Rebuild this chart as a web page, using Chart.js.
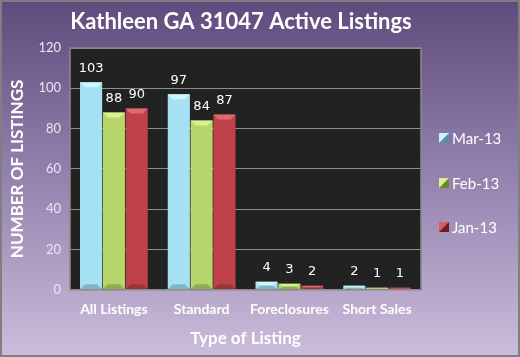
<!DOCTYPE html>
<html><head><meta charset="utf-8">
<script src="https://cdn.jsdelivr.net/npm/chart.js@4/dist/chart.umd.min.js"></script>
<style>html,body{margin:0;padding:0;background:#fff}#wrap{width:520px;height:357px}</style>
</head><body><div id="wrap"><canvas id="c" width="520" height="357"></canvas></div>
<script>
const categories = ["All Listings", "Standard", "Foreclosures", "Short Sales"];
const seriesNames = ["Mar-13", "Feb-13", "Jan-13"];
const mar13 = [103, 97, 4, 2];
const feb13 = [88, 84, 3, 1];
const jan13 = [90, 87, 2, 1];
const yTicks = [0, 20, 40, 60, 80, 100, 120];
const chartTitle = "Kathleen GA 31047 Active Listings";

const palette = [
  {light:'#c8f6ff', mid:'#a4e2f3', dark:'#5a8ea6', top:'#dcfaff'},
  {light:'#d6f28c', mid:'#b6d66c', dark:'#6c8733', top:'#e2f6a0'},
  {light:'#da5c62', mid:'#c04249', dark:'#6a1c21', top:'#e2747a'}
];

function barFill(ctx){
  const el = ctx.element; const p = palette[ctx.datasetIndex];
  if(!el || !isFinite(el.x) || !el.width) return p.mid;
  const c = ctx.chart.ctx; const x0 = el.x - el.width/2, x1 = el.x + el.width/2;
  const g = c.createLinearGradient(x0,0,x1,0);
  g.addColorStop(0,p.light); g.addColorStop(0.2,p.light); g.addColorStop(0.55,p.mid); g.addColorStop(0.85,p.dark); g.addColorStop(1,p.dark);
  return g;
}

const bgPlugin = {
  id:'bg',
  beforeDraw(chart){
    const c = chart.ctx, w = chart.width, h = chart.height;
    const g = c.createLinearGradient(0,0,0,h);
    g.addColorStop(0,'#5e4a7c'); g.addColorStop(0.45,'#8f7daa'); g.addColorStop(1,'#cbbddb');
    c.save(); c.fillStyle = g; c.fillRect(0,0,w,h);
    c.strokeStyle='#7f7f7f'; c.lineWidth=2; c.strokeRect(1,1,w-2,h-2);
    const a = chart.chartArea; c.fillStyle='#222222'; c.fillRect(a.left,a.top,a.right-a.left,a.bottom-a.top);
    c.restore();
  },
  afterDraw(chart){
    const c = chart.ctx, a = chart.chartArea;
    c.save(); c.strokeStyle='#8a8a8a'; c.lineWidth=1.5; c.strokeRect(a.left,a.top,a.right-a.left,a.bottom-a.top);
    c.fillStyle='#ffffff'; c.font='bold 22px Lato, "Open Sans", sans-serif'; c.textAlign='center'; c.textBaseline='middle';
    c.fillText(chartTitle, 241, 22);
    c.restore();
  }
};

const bevelPlugin = {
  id:'bevel',
  afterDatasetsDraw(chart){
    const c = chart.ctx;
    chart.data.datasets.forEach((ds,di)=>{
      const meta = chart.getDatasetMeta(di); const p = palette[di];
      meta.data.forEach((bar,i)=>{
        const x0 = bar.x - bar.width/2, x1 = bar.x + bar.width/2, y0 = bar.y, y1 = bar.base;
        const b = Math.min(5, (y1-y0)/2);
        c.save();
        c.fillStyle = p.top; c.globalAlpha = 0.8;
        c.beginPath(); c.moveTo(x0,y0); c.lineTo(x1,y0); c.lineTo(x1-5,y0+b); c.lineTo(x0+5,y0+b); c.closePath(); c.fill();
        c.fillStyle = 'rgba(0,0,0,0.25)';
        c.beginPath(); c.moveTo(x0,y1); c.lineTo(x1,y1); c.lineTo(x1-5,y1-b); c.lineTo(x0+5,y1-b); c.closePath(); c.fill();
        c.restore();
        c.save(); c.fillStyle='#ffffff'; c.font='13px "DejaVu Sans", sans-serif'; c.textAlign='center'; c.textBaseline='middle';
        c.fillText(String(ds.data[i]), bar.x, bar.y-14); c.restore();
      });
    });
  }
};

const legendPlugin = {
  id:'sideLegend',
  afterDraw(chart){
    const c = chart.ctx;
    const ys = [138,183,227];
    chart.data.datasets.forEach((ds,di)=>{
      const p = palette[di]; const y = ys[di];
      c.save();
      c.fillStyle = p.light; c.fillRect(439,y-5,10,10);
      c.fillStyle = p.dark; c.beginPath(); c.moveTo(449,y-5); c.lineTo(449,y+5); c.lineTo(439,y+5); c.closePath(); c.fill();
      c.fillStyle='#ffffff'; c.font='15px Lato, "Open Sans", sans-serif'; c.textBaseline='middle'; c.textAlign='left';
      c.fillText(ds.label, 452, y+1);
      c.restore();
    });
  }
};

new Chart(document.getElementById('c'), {
  type:'bar',
  data:{
    labels: categories,
    datasets:[
      {label:seriesNames[0], data:mar13},
      {label:seriesNames[1], data:feb13},
      {label:seriesNames[2], data:jan13}
    ].map(d=>Object.assign(d,{backgroundColor:barFill, borderWidth:0, categoryPercentage:0.78, barPercentage:0.97}))
  },
  options:{
    responsive:false, animation:false, devicePixelRatio:1,
    layout:{padding:{top:48,right:99,bottom:8,left:2}},
    plugins:{ legend:{display:false}, tooltip:{enabled:false}, title:{display:false} },
    scales:{
      x:{
        grid:{display:false}, border:{display:false},
        ticks:{color:'#ffffff', font:{family:'Lato, "Open Sans", sans-serif', size:14, weight:'bold'}, padding:3, maxRotation:0},
        title:{display:true, text:'Type of Listing', color:'#ffffff', font:{family:'Lato, "Open Sans", sans-serif', size:17, weight:'bold'}, padding:{top:8,bottom:0}}
      },
      y:{
        min:0, max:120,
        afterBuildTicks(axis){ axis.ticks = yTicks.map(v=>({value:v})); },
        grid:{color:'#8c8c8c', lineWidth:1, drawTicks:true, tickLength:0},
        border:{display:false},
        ticks:{color:'#ece6f2', font:{family:'Lato, "Open Sans", sans-serif', size:13}, padding:9},
        title:{display:true, text:'NUMBER OF LISTINGS', color:'#ffffff', font:{family:'Lato, "Open Sans", sans-serif', size:17, weight:'bold'}, padding:{top:5,bottom:2}}
      }
    }
  },
  plugins:[bgPlugin, bevelPlugin, legendPlugin]
});
</script></body></html>
